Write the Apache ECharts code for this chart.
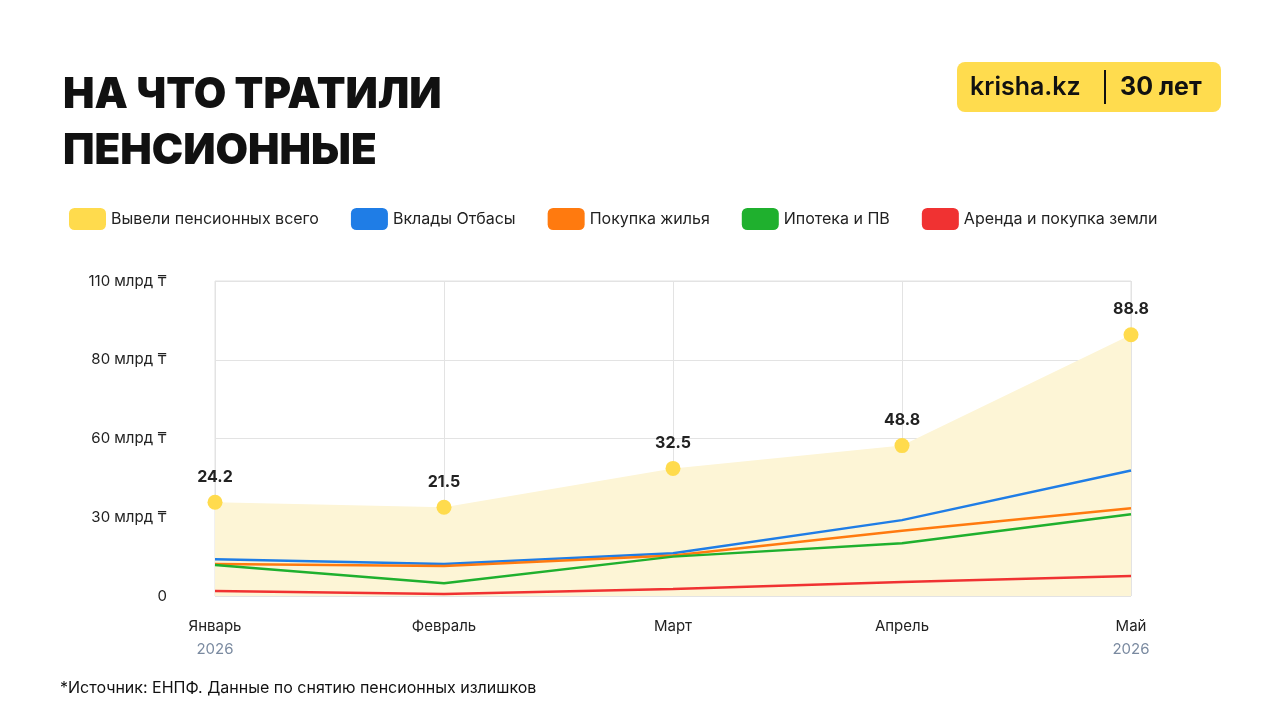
<!DOCTYPE html>
<html><head><meta charset="utf-8">
<script src="https://cdn.jsdelivr.net/npm/echarts@6/dist/echarts.min.js"></script>
<style>html,body{margin:0;background:#fff}#c{width:1280px;height:720px}</style>
</head><body><div id="c"></div>
<script>
const months = ['Январь','Февраль','Март','Апрель','Май'];
const years = ['2026','','','','2026'];
const yTicks = [0,30,60,80,110];
const yTickLabels = ['0','30 млрд ₸','60 млрд ₸','80 млрд ₸','110 млрд ₸'];
const totalLabels = ['24.2','21.5','32.5','48.8','88.8'];
const totalPlotted = [35.7,33.8,48.6,57.3,89.5];
const otbasy = [14.0,12.2,16.3,28.9,47.8];
const housing = [12.2,11.4,15.4,24.9,33.4];
const mortgage = [11.8,4.9,15.0,20.1,31.1];
const land = [1.9,0.8,2.7,5.3,7.6];

function toAxis(v){
  for(let i=0;i<yTicks.length-1;i++){
    if(v<=yTicks[i+1]) return i+(v-yTicks[i])/(yTicks[i+1]-yTicks[i]);
  }
  return yTicks.length-1;
}
const ch = echarts.init(document.getElementById('c'));
const F='Inter, "Noto Sans", sans-serif';
function line(name,data,color){
  return {name,type:'line',data:data.map(toAxis),symbol:'none',lineStyle:{color,width:2.5},itemStyle:{color},z:3};
}
ch.setOption({
  animation:false,
  textStyle:{fontFamily:F},
  title:{text:'НА ЧТО ТРАТИЛИ\nПЕНСИОННЫЕ',left:58,top:62,textStyle:{fontSize:42,fontWeight:900,color:'#111',lineHeight:56,fontFamily:F}},
  graphic:[
    {type:'rect',shape:{x:957,y:62,width:264,height:50,r:8},style:{fill:'#ffdc4e'}},
    {type:'text',style:{x:970,y:87,text:'krisha.kz',font:'600 25px '+F,fill:'#111',verticalAlign:'middle'}},
    {type:'rect',shape:{x:1104,y:70,width:2,height:34},style:{fill:'#111'}},
    {type:'text',style:{x:1120,y:87,text:'30 лет',font:'700 25px '+F,fill:'#111',verticalAlign:'middle'}},
    {type:'text',style:{x:60,y:688,text:'*Источник: ЕНПФ. Данные по снятию пенсионных излишков',font:'16px '+F,fill:'#111',verticalAlign:'middle'}}
  ],
  legend:{left:64,top:203,itemWidth:37,itemHeight:22,itemGap:32,icon:'roundRect',
    textStyle:{fontSize:16,color:'#222'},
    data:['Вывели пенсионных всего','Вклады Отбасы','Покупка жилья','Ипотека и ПВ','Аренда и покупка земли']},
  grid:{left:215,right:149,top:281,bottom:124},
  xAxis:{type:'category',boundaryGap:false,data:months,
    axisLine:{show:false},axisTick:{show:false},
    splitLine:{show:true,lineStyle:{color:'#e3e3e3'}},
    axisLabel:{margin:18,formatter:(v,i)=>'{m|'+v+'}\n{y|'+(years[i]||' ')+'}',
      rich:{m:{fontSize:15,color:'#222',lineHeight:24},y:{fontSize:15,color:'#7a8aa0',lineHeight:22}}}},
  yAxis:{type:'value',min:0,max:4,interval:1,
    axisLine:{show:false},axisTick:{show:false},
    splitLine:{lineStyle:{color:'#e3e3e3'}},
    axisLabel:{margin:48,fontSize:15,color:'#222',formatter:v=>yTickLabels[v]}},
  series:[
    {name:'Вывели пенсионных всего',type:'line',data:totalPlotted.map(toAxis),
      symbol:'circle',symbolSize:15,itemStyle:{color:'#ffdb4d'},lineStyle:{width:0},
      areaStyle:{color:'#fdf5d6',opacity:1},z:2,
      label:{show:true,position:'top',distance:10,fontSize:16,fontWeight:700,color:'#222',
        formatter:p=>totalLabels[p.dataIndex]}},
    {name:'_border',type:'line',data:[],markArea:{silent:true,itemStyle:{color:'none',borderColor:'#e3e3e3',borderWidth:1},data:[[{xAxis:0,yAxis:0},{xAxis:4,yAxis:4}]]}},
    line('Вклады Отбасы',otbasy,'#1f7de6'),
    line('Покупка жилья',housing,'#ff7a0f'),
    line('Ипотека и ПВ',mortgage,'#1fb02e'),
    line('Аренда и покупка земли',land,'#f03232')
  ]
});
</script></body></html>
